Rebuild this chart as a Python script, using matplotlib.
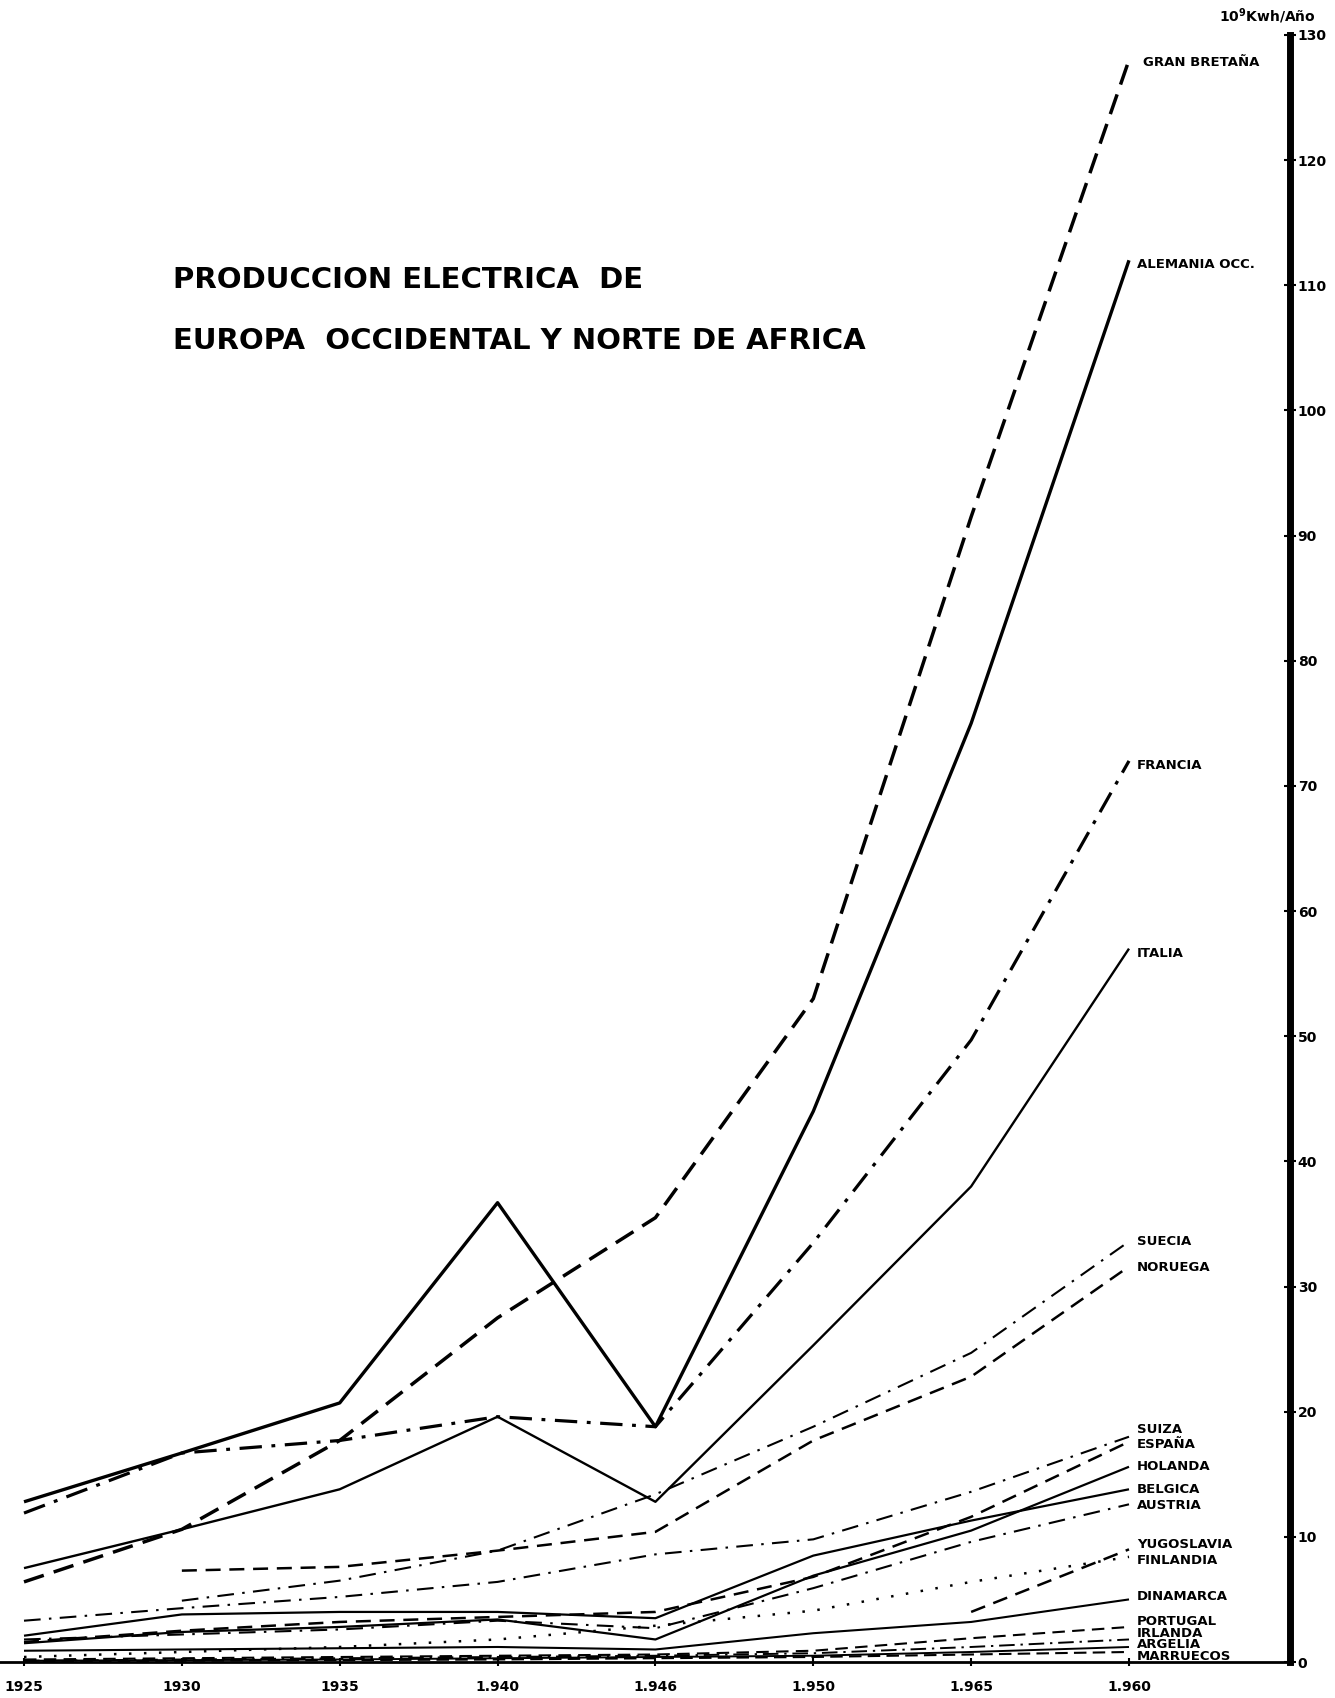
import numpy as np
import matplotlib
matplotlib.use("Agg")
import matplotlib.pyplot as plt

# ---------------- data ----------------
years = [1925, 1930, 1935, 1940, 1945, 1950, 1955, 1960]
year_labels = ["1925", "1930", "1935", "1.940", "1.946", "1.950", "1.965", "1.960"]
yticks = [0, 10, 20, 30, 40, 50, 60, 70, 80, 90, 100, 110, 120, 130]

nan = np.nan
gran_bretana = [6.4, 10.6, 17.7, 27.5, 35.5, 53.0, 91.5, 128.0]
alemania     = [12.8, 16.7, 20.7, 36.7, 18.8, 44.0, 75.0, 112.0]
francia      = [11.9, 16.7, 17.7, 19.6, 18.8, 33.5, 49.7, 72.0]
italia       = [7.5, 10.6, 13.8, 19.6, 12.8, 25.3, 38.0, 57.0]
suecia       = [nan, 4.9, 6.5, 8.9, 13.4, 18.8, 24.7, 33.6]
noruega      = [nan, 7.3, 7.6, 8.9, 10.4, 17.7, 22.8, 31.6]
suiza        = [3.3, 4.3, 5.2, 6.4, 8.6, 9.8, 13.6, 18.0]
espana       = [1.6, 2.5, 3.2, 3.6, 4.0, 6.8, 11.6, 17.6]
holanda      = [1.5, 2.4, 2.8, 3.4, 1.8, 6.9, 10.5, 15.6]
belgica      = [2.1, 3.8, 4.0, 4.0, 3.5, 8.5, 11.3, 13.8]
austria      = [1.8, 2.2, 2.6, 3.3, 2.7, 5.9, 9.6, 12.6]
yugoslavia   = [nan, nan, nan, nan, nan, nan, 4.0, 9.0]
finlandia    = [0.4, 0.8, 1.2, 1.8, 2.9, 4.1, 6.4, 8.4]
dinamarca    = [0.9, 1.0, 1.1, 1.2, 1.0, 2.3, 3.2, 5.0]
portugal     = [0.2, 0.3, 0.4, 0.5, 0.6, 0.9, 1.9, 2.8]
irlanda      = [0.1, 0.2, 0.3, 0.4, 0.5, 0.7, 1.2, 1.8]
argelia      = [0.1, 0.15, 0.2, 0.3, 0.4, 0.5, 0.8, 1.2]
marruecos    = [0.05, 0.1, 0.15, 0.2, 0.3, 0.4, 0.6, 0.8]

names = ["GRAN BRETAÑA", "ALEMANIA OCC.", "FRANCIA", "ITALIA", "SUECIA", "NORUEGA",
         "SUIZA", "ESPAÑA", "HOLANDA", "BELGICA", "AUSTRIA", "YUGOSLAVIA",
         "FINLANDIA", "DINAMARCA", "PORTUGAL", "IRLANDA", "ARGELIA", "MARRUECOS"]
label_y = [127.8, 111.7, 71.6, 56.6, 33.6, 31.5, 18.6, 17.4, 15.6, 13.8, 12.5,
           9.4, 8.1, 5.2, 3.2, 2.3, 1.4, 0.4]

# ---------------- styles ----------------
DASH = (0, (6, 3))
DASHDOT = (0, (7, 3, 1.2, 3))
styles = [
    dict(ls=DASH, lw=2.5),          # GB
    dict(ls="-", lw=2.4),           # Alemania
    dict(ls=DASHDOT, lw=2.3),       # Francia
    dict(ls="-", lw=1.7),           # Italia
    dict(ls=(0, (8, 4, 1.2, 4)), lw=1.5),  # Suecia
    dict(ls=(0, (6, 3.5)), lw=1.8),  # Noruega
    dict(ls=(0, (8, 4, 1.2, 4)), lw=1.5),  # Suiza
    dict(ls=(0, (6, 3.5)), lw=1.8),  # España
    dict(ls="-", lw=1.6),           # Holanda
    dict(ls="-", lw=1.6),           # Belgica
    dict(ls=(0, (8, 4, 1.2, 4)), lw=1.5),  # Austria
    dict(ls=(0, (6, 3.5)), lw=1.8),  # Yugoslavia
    dict(ls=(0, (1.0, 5.0)), lw=1.8),  # Finlandia
    dict(ls="-", lw=1.5),           # Dinamarca
    dict(ls=(0, (6, 3.5)), lw=1.5),  # Portugal
    dict(ls=(0, (8, 3, 1.2, 3)), lw=1.4),  # Irlanda
    dict(ls="-", lw=1.4),           # Argelia
    dict(ls=(0, (6, 3)), lw=1.5),   # Marruecos
]
series = [gran_bretana, alemania, francia, italia, suecia, noruega, suiza, espana,
          holanda, belgica, austria, yugoslavia, finlandia, dinamarca, portugal,
          irlanda, argelia, marruecos]

# ---------------- figure ----------------
W, H = 1335, 1698
fig = plt.figure(figsize=(W / 100, H / 100), dpi=100)
fig.patch.set_facecolor("white")

px_per_year = (1129 - 24) / 35.0
x0 = 1925 - 24 / px_per_year
x1 = 1925 + (1290 - 24) / px_per_year
ax_bottom = (H - 1662) / H
ax_top = (H - 35) / H
ax = fig.add_axes([0, ax_bottom, 1290 / W, ax_top - ax_bottom])
ax.set_xlim(x0, x1)
ax.set_ylim(0, 130)

for vals, st in zip(series, styles):
    ax.plot(years, vals, color="black", linestyle=st["ls"], linewidth=st["lw"],
            solid_capstyle="butt", dash_capstyle="butt", clip_on=False)

font_lab = dict(fontsize=9.5, fontweight="bold", family="DejaVu Sans", color="black")
for name, ly in zip(names, label_y):
    xl = 1960.45 if name in ("GRAN BRETAÑA",) else 1960.25
    ax.text(xl, ly, name, ha="left", va="center", **font_lab)

# spines
for s in ("left", "top"):
    ax.spines[s].set_visible(False)
ax.spines["right"].set_linewidth(5)
ax.spines["bottom"].set_linewidth(2.0)
ax.yaxis.tick_right()
ax.set_yticks(yticks)
ax.set_yticklabels([str(v) for v in yticks], fontsize=10, fontweight="bold")
ax.tick_params(axis="y", direction="inout", length=9, width=1.5, pad=1)
ax.set_xticks(years)
ax.set_xticklabels(year_labels, fontsize=10, fontweight="bold")
ax.tick_params(axis="x", direction="inout", length=6, width=1.5, pad=10)
for lbl in ax.get_xticklabels():
    lbl.set_horizontalalignment("center")

# unit label
fig.text(1316 / W, 1 - 16 / H, "10$^{\\mathbf{9}}$Kwh/Año", ha="right", va="center",
         fontsize=10, fontweight="bold")

# title
fig.text(173 / W, 1 - 280 / H, "PRODUCCION ELECTRICA  DE", ha="left", va="center",
         fontsize=21, fontweight="bold", family="DejaVu Sans")
fig.text(173 / W, 1 - 341 / H, "EUROPA  OCCIDENTAL Y NORTE DE AFRICA", ha="left",
         va="center", fontsize=21, fontweight="bold", family="DejaVu Sans")

fig.savefig("out.png", dpi=100, facecolor="white")
